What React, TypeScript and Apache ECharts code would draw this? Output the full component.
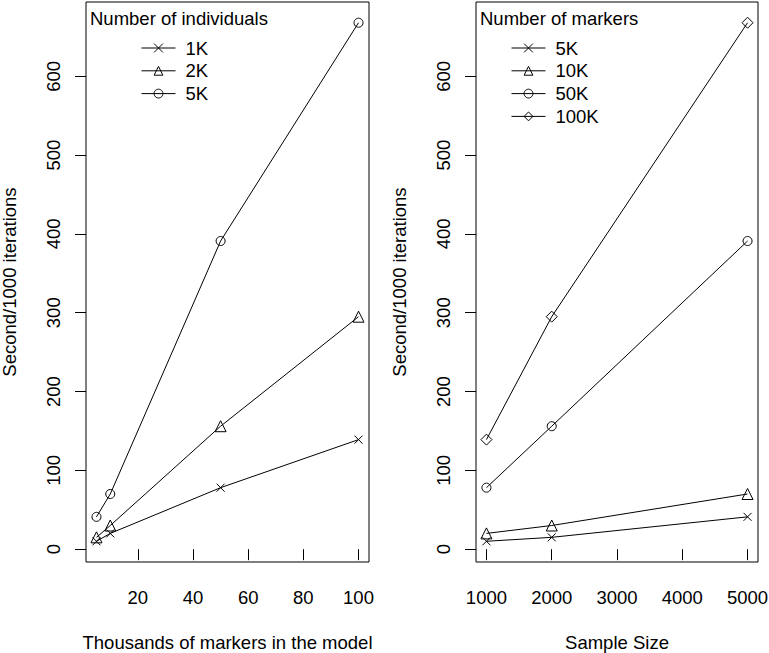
import React, { useEffect, useRef } from "react";
import * as echarts from "echarts";

// Thousands of markers in the model (left panel x)
const markersK = [5, 10, 50, 100];
// Sample sizes (right panel x)
const sampleSizes = [1000, 2000, 5000];
// Seconds / 1000 iterations, by number of individuals (rows) and markers (columns)
const individuals = ["1K", "2K", "5K"];
const time1K = [10, 20, 78, 139];
const time2K = [15, 30, 156, 295];
const time5K = [41, 70, 391, 668];
const markerLabels = ["5K", "10K", "50K", "100K"];

const yTicks = [0, 100, 200, 300, 400, 500, 600];
const xTicksLeft = [20, 40, 60, 80, 100];
const xTicksRight = [1000, 2000, 3000, 4000, 5000];

const CROSS = "path://M0,0L10,10M10,0L0,10";
const leftSymbols = [CROSS, "triangle", "circle"];
const leftSizes = [8, 11, 9];
const rightSymbols = [CROSS, "triangle", "circle", "diamond"];
const rightSizes = [8, 11, 9, 11];

const FONT = "'Liberation Sans', Arial, Helvetica, sans-serif";
const FS = 18.5;

export default function App() {
  const ref = useRef<HTMLDivElement>(null);
  useEffect(() => {
    if (!ref.current) return;
    const chart = echarts.init(ref.current, null, { renderer: "svg" });
    const rows = [time1K, time2K, time5K];
    const markStyle = { color: "rgba(0,0,0,0)", borderColor: "#000", borderWidth: 1 };
    const series: any[] = [];
    individuals.forEach((name, i) => {
      series.push({
        type: "line",
        name,
        xAxisIndex: 0,
        yAxisIndex: 0,
        data: markersK.map((x, j) => [x, rows[i][j]]),
        symbol: leftSymbols[i],
        symbolSize: leftSizes[i],
        showAllSymbol: true,
        lineStyle: { color: "#000", width: 1 },
        itemStyle: markStyle,
      });
    });
    markerLabels.forEach((name, j) => {
      series.push({
        type: "line",
        name: "m" + name,
        xAxisIndex: 1,
        yAxisIndex: 1,
        data: sampleSizes.map((s, i) => [s, rows[i][j]]),
        symbol: rightSymbols[j],
        symbolSize: rightSizes[j],
        showAllSymbol: true,
        lineStyle: { color: "#000", width: 1 },
        itemStyle: markStyle,
      });
    });

    const yAxisBase = (gridIndex: number) => ({
      type: "value",
      gridIndex,
      min: -16.3,
      max: 694.3,
      name: "Second/1000 iterations",
      nameLocation: "middle",
      nameGap: 67,
      nameTextStyle: { fontSize: FS, color: "#000", fontFamily: FONT },
      axisLine: { show: false },
      splitLine: { show: false },
      axisTick: {
        show: true,
        inside: false,
        length: 11,
        customValues: yTicks,
        lineStyle: { color: "#000", width: 1 },
      },
      axisLabel: {
        show: true,
        rotate: 90,
        margin: 23.5,
        fontSize: FS,
        color: "#000",
        fontFamily: FONT,
        customValues: yTicks,
        formatter: (v: number) => String(v),
      },
    });

    const xAxisBase = (gridIndex: number, min: number, max: number, ticks: number[], name: string) => ({
      type: "value",
      gridIndex,
      min,
      max,
      name,
      nameLocation: "middle",
      nameGap: 71,
      nameTextStyle: { fontSize: FS, color: "#000", fontFamily: FONT },
      axisLine: { show: false },
      splitLine: { show: false },
      axisTick: {
        show: true,
        inside: false,
        length: 11,
        customValues: ticks,
        lineStyle: { color: "#000", width: 1 },
      },
      axisLabel: {
        show: true,
        margin: 26,
        fontSize: FS,
        color: "#000",
        fontFamily: FONT,
        customValues: ticks,
        formatter: (v: number) => String(v),
      },
    });

    const legendBase = {
      orient: "vertical",
      padding: 0,
      itemWidth: 34,
      itemHeight: 11,
      itemGap: 3.8,
      selectedMode: false,
      itemStyle: { color: "rgba(0,0,0,0)", borderColor: "#000", borderWidth: 1 },
      lineStyle: { color: "#000", width: 1 },
      textStyle: { fontSize: FS, color: "#000", fontFamily: FONT, padding: [0, 0, 0, 5] },
      inactiveColor: "#000",
    };

    const gridBase = {
      top: 2,
      height: 560,
      show: true,
      borderColor: "#000",
      borderWidth: 1,
      backgroundColor: "transparent",
      containLabel: false,
      outerBoundsMode: "none",
    };

    chart.setOption({
      animation: false,
      backgroundColor: "#fff",
      grid: [
        { ...gridBase, left: 86, width: 283 },
        { ...gridBase, left: 476, width: 282 },
      ],
      xAxis: [
        xAxisBase(0, 1.2, 103.8, xTicksLeft, "Thousands of markers in the model"),
        xAxisBase(1, 840, 5160, xTicksRight, "Sample Size"),
      ],
      yAxis: [yAxisBase(0), yAxisBase(1)],
      legend: [
        { ...legendBase, left: 141, top: 38.5, data: individuals },
        {
          ...legendBase,
          left: 511,
          top: 38.5,
          data: markerLabels.map((m) => "m" + m),
          formatter: (n: string) => n.slice(1),
        },
      ],
      graphic: [
        {
          type: "text",
          left: 90,
          top: 9,
          style: { text: "Number of individuals", fill: "#000", font: `${FS}px ${FONT}` },
        },
        {
          type: "text",
          left: 480,
          top: 9,
          style: { text: "Number of markers", fill: "#000", font: `${FS}px ${FONT}` },
        },
      ],
      series,
    });
    return () => chart.dispose();
  }, []);
  return (
    <div
      ref={ref}
      style={{ position: "absolute", left: 0, top: 0, width: 769, height: 653 }}
    />
  );
}
